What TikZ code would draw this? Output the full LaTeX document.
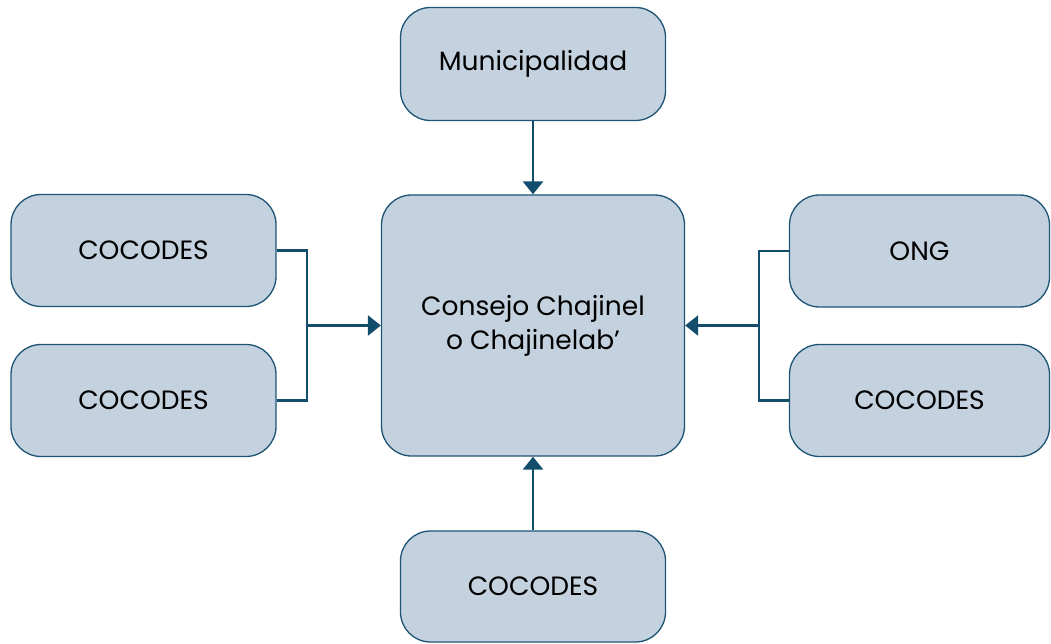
\documentclass[tikz,border=0pt]{standalone}
\usepackage{fontspec}
\setmainfont{Poppins}
\usetikzlibrary{arrows.meta}
\definecolor{boxfill}{HTML}{C4D2DF}
\definecolor{boxline}{HTML}{1D5474}
\definecolor{linkcol}{HTML}{124D6C}
\tikzset{
  card/.style={draw=boxline, line width=1.3pt, fill=boxfill, rounded corners=30pt,
    align=center, inner sep=0pt, font=\fontsize{26.5}{34}\selectfont},
  link/.style={draw=linkcol, line width=2.8pt},
  linkarrow/.style={link, -{Triangle[width=20pt,length=13pt]}}
}
\begin{document}
\begin{tikzpicture}[x=1pt,y=-1pt]
\useasboundingbox (0,0) rectangle (1051,644);
% boxes
\node[card, minimum width=265pt, minimum height=113pt] (muni) at (533,64) {Municipalidad};
\node[card, minimum width=303pt, minimum height=261pt] (hub) at (533,325.5) {Consejo Chajinel\\o Chajinelab’};
\node[card, minimum width=265pt, minimum height=112pt] (l1) at (143.5,250.5) {COCODES};
\node[card, minimum width=265pt, minimum height=112pt] (l2) at (143.5,400.5) {COCODES};
\node[card, minimum width=260pt, minimum height=112pt] (r1) at (919.5,251) {ONG};
\node[card, minimum width=260pt, minimum height=112pt] (r2) at (919.5,400.5) {COCODES};
\node[card, minimum width=265pt, minimum height=111pt] (bot) at (533,586.5) {COCODES};
% junction points
\coordinate (jl) at (307,325.5);
\coordinate (jr) at (759,325.5);
% connectors
\draw[linkarrow] (muni.south) -- (hub.north);
\draw[linkarrow] (bot.north) -- (hub.south);
\draw[link] (l1.east) -| (jl) |- (l2.east);
\draw[linkarrow] (jl) -- (hub.west);
\draw[link] (r1.west) -| (jr) |- (r2.west);
\draw[linkarrow] (jr) -- (hub.east);
\end{tikzpicture}
\end{document}
